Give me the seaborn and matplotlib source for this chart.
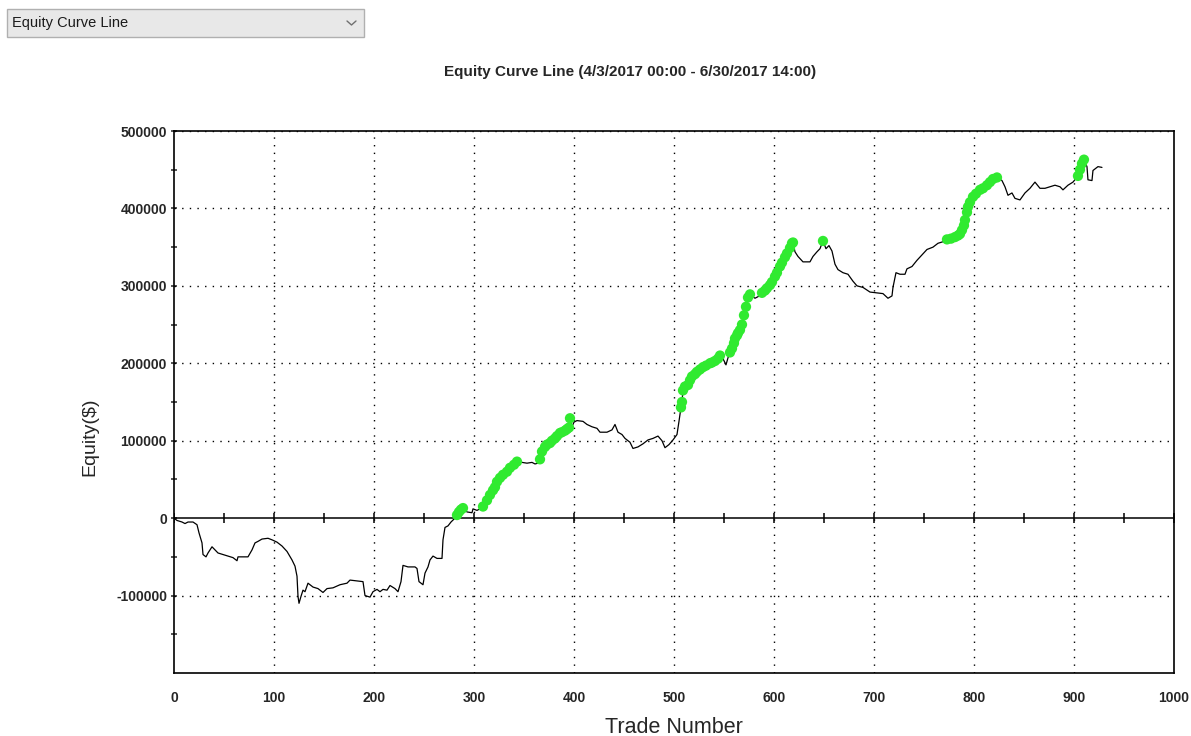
import matplotlib
matplotlib.use('Agg')
import matplotlib.pyplot as plt
from matplotlib.patches import Rectangle
from matplotlib.lines import Line2D
import pandas as pd
import seaborn as sns

# trade number / equity
trades = [0, 3, 8, 11, 14, 19, 23, 25, 28, 29, 32, 34, 38, 41, 44, 49, 54, 59, 63, 64,
          74, 78, 81, 84, 88, 94, 98, 103, 108, 113, 118, 121, 123, 124, 125, 127, 129, 131, 134, 139,
          144, 149, 153, 159, 166, 173, 176, 183, 189, 191, 196, 199, 203, 206, 209, 213, 216, 221, 224, 227,
          229, 234, 241, 243, 245, 249, 251, 254, 256, 259, 263, 268, 269, 271, 274, 277, 281, 283, 285, 287,
          289, 293, 298, 299, 303, 306, 309, 313, 316, 319, 321, 323, 326, 329, 333, 336, 340, 343, 348, 353,
          358, 361, 364, 366, 368, 371, 373, 376, 378, 381, 383, 386, 388, 391, 393, 395, 396, 398, 400, 403,
          409, 413, 418, 423, 426, 433, 438, 441, 444, 448, 451, 456, 459, 464, 469, 474, 479, 484, 488, 491,
          495, 499, 503, 505, 507, 508, 509, 511, 514, 516, 518, 521, 523, 526, 529, 532, 536, 538, 541, 544,
          546, 549, 552, 554, 556, 558, 560, 561, 563, 564, 566, 568, 570, 572, 574, 576, 578, 581, 584, 586,
          588, 591, 593, 596, 598, 601, 603, 606, 608, 611, 613, 616, 618, 619, 621, 624, 629, 636, 639, 643,
          646, 649, 652, 655, 658, 661, 664, 669, 674, 679, 683, 689, 696, 703, 709, 714, 718, 719, 722, 726,
          731, 733, 738, 743, 748, 753, 759, 764, 769, 773, 777, 781, 784, 786, 788, 790, 791, 793, 794, 796,
          799, 802, 806, 809, 813, 816, 819, 823, 828, 831, 834, 838, 841, 846, 851, 856, 861, 866, 871, 876,
          881, 886, 889, 894, 899, 904, 906, 908, 910, 913, 914, 918, 919, 924, 928]

equity = [0, -3000, -5000, -7000, -5000, -5000, -8500, -19000, -32000, -47000,
          -50000, -45000, -37000, -41000, -45000, -47000, -49000, -51000, -55000, -50000,
          -50000, -41000, -32000, -30000, -27000, -26000, -28000, -31000, -36000, -43000,
          -54000, -62000, -75000, -101000, -110000, -101000, -93000, -95000, -84000, -89000,
          -91000, -96000, -91000, -90000, -86000, -84000, -80000, -81000, -82000, -100000,
          -102000, -95000, -92000, -95000, -92000, -93000, -87000, -91000, -95000, -82000,
          -61000, -63000, -63000, -65000, -82000, -86000, -71000, -63000, -54000, -49000,
          -52000, -52000, -28000, -12000, -10000, -5000, 0, 4000, 8000, 11000,
          13000, 8000, 7000, 12000, 10000, 12000, 15000, 23000, 30000, 36000,
          40000, 47000, 52000, 56000, 60000, 65000, 69000, 73000, 72000, 71000,
          72000, 70000, 71000, 76000, 86000, 92000, 95000, 97000, 100000, 103000,
          106000, 110000, 111000, 113000, 115000, 117000, 129000, 118000, 124000, 126000,
          125000, 121000, 118000, 116000, 111000, 111000, 114000, 121000, 111000, 108000,
          103000, 98000, 90000, 92000, 96000, 101000, 103000, 106000, 100000, 91000,
          95000, 101000, 108000, 125000, 143000, 150000, 165000, 170000, 172000, 178000,
          183000, 186000, 189000, 192000, 195000, 197000, 200000, 201000, 203000, 206000,
          210000, 206000, 198000, 207000, 214000, 219000, 226000, 232000, 236000, 239000,
          243000, 250000, 262000, 273000, 285000, 289000, 287000, 284000, 286000, 288000,
          291000, 294000, 297000, 301000, 305000, 312000, 317000, 325000, 330000, 337000,
          342000, 349000, 355000, 356000, 344000, 338000, 331000, 331000, 338000, 344000,
          348000, 358000, 348000, 352000, 345000, 328000, 321000, 317000, 315000, 306000,
          300000, 298000, 292000, 291000, 290000, 284000, 287000, 298000, 317000, 315000,
          315000, 322000, 325000, 333000, 340000, 347000, 350000, 355000, 357000, 360000,
          361000, 363000, 365000, 367000, 372000, 378000, 385000, 395000, 402000, 408000,
          415000, 419000, 424000, 426000, 430000, 434000, 438000, 440000, 436000, 428000,
          417000, 420000, 413000, 411000, 420000, 426000, 434000, 426000, 426000, 428000,
          430000, 428000, 424000, 430000, 434000, 442000, 450000, 458000, 463000, 454000,
          437000, 436000, 449000, 454000, 453000]

x_ticks = list(range(0, 1001, 100))
y_ticks = list(range(-100000, 500001, 100000))

df = pd.DataFrame({'Trade': trades, 'Equity': equity})
# green dots mark new equity highs
prev_high = df['Equity'].cummax().shift(fill_value=0)
highs = df[df['Equity'] > prev_high]

sns.set_style('white')
plt.rcParams['font.family'] = ['Liberation Sans', 'DejaVu Sans']
plt.rcParams['axes.unicode_minus'] = False

fig = plt.figure(figsize=(11.91, 7.36), dpi=100)
ax = fig.add_axes([0.1461, 0.0856, 0.8396, 0.7364])

dots = (0, (1, 4.5))
for x in x_ticks[1:-1]:
    ax.axvline(x, color='black', lw=1, linestyle=dots, zorder=1)
for y in y_ticks:
    if y != 0:
        ax.axhline(y, color='black', lw=1, linestyle=dots, zorder=1)
ax.axhline(0, color='black', lw=1.1, zorder=2)
# small ticks along the zero line
ax.plot(range(0, 1001, 50), [0] * 21, '|', color='black', ms=7, mew=1.1, zorder=2)

sns.lineplot(data=df, x='Trade', y='Equity', color='black', lw=0.9,
             estimator=None, sort=False, ax=ax, zorder=3)
sns.scatterplot(data=highs, x='Trade', y='Equity', color='#30ea30', s=55,
                edgecolor='none', ax=ax, zorder=4)

ax.set_xlim(0, 1000)
ax.set_ylim(-200000, 500000)
ax.set_xticks(x_ticks)
ax.set_yticks(y_ticks)
ax.set_yticks(range(-150000, 500000, 100000), minor=True)
ax.tick_params(axis='x', length=0, pad=13, labelsize=10)
ax.tick_params(axis='y', which='both', direction='inout', length=5, width=1.1,
               left=True, pad=2.5, labelsize=10)
for lab in ax.get_xticklabels() + ax.get_yticklabels():
    lab.set_fontweight('bold')
for sp in ax.spines.values():
    sp.set_visible(True)
    sp.set_color('black')
    sp.set_linewidth(1.2)

ax.set_xlabel('Trade Number', fontsize=15.5)
ax.xaxis.set_label_coords(0.5, -0.081)
ax.set_ylabel('Equity($)', fontsize=14)
ax.yaxis.set_label_coords(-0.076, 0.436)
fig.text(0.5294, 0.902, 'Equity Curve Line (4/3/2017 00:00 - 6/30/2017 14:00)',
         ha='center', va='center', fontsize=11, fontweight='bold')

# dropdown box at the top left
W, H = 1191, 736
fig.patches.append(Rectangle((7 / W, 1 - 37 / H), 357 / W, 28 / H, transform=fig.transFigure,
                             facecolor='#e8e8e8', edgecolor='#b0b0b0', lw=1))
fig.text(12 / W, 1 - 23 / H, 'Equity Curve Line', ha='left', va='center', fontsize=10.5,
         color='#1a1a1a')
fig.lines.append(Line2D([347 / W, 351.5 / W, 356 / W], [1 - 21 / H, 1 - 25 / H, 1 - 21 / H],
                        transform=fig.transFigure, color='#707070', lw=1))

fig.savefig('out.png', dpi=100)
